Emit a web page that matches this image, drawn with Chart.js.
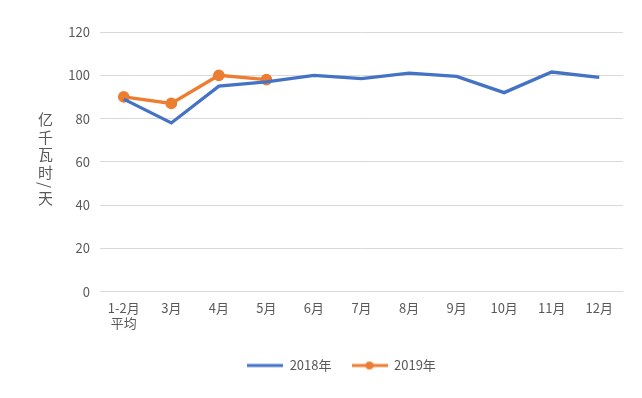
<!DOCTYPE html>
<html><head><meta charset="utf-8">
<script src="https://cdn.jsdelivr.net/npm/chart.js@4/dist/chart.umd.min.js"></script>
<style>
html,body{margin:0;padding:0;background:#fff;}
#wrap{position:relative;width:642px;height:398px;}
#ytitle{position:absolute;left:36px;top:112px;writing-mode:vertical-rl;text-orientation:mixed;font-family:"Noto Sans CJK SC","Noto Sans",sans-serif;font-size:15px;color:#595959;line-height:18px;letter-spacing:2.5px;}
</style></head>
<body>
<div id="wrap"><canvas id="c" width="642" height="398"></canvas><div id="ytitle">亿千瓦时/天</div></div>
<script>
const categories = [['1-2月','平均'],'3月','4月','5月','6月','7月','8月','9月','10月','11月','12月'];
const series2018 = [89, 78, 95, 97, 100, 98.5, 101, 99.5, 92, 101.5, 99];
const series2019 = [90, 87, 100, 98];
const seriesNames = ['2018年','2019年'];
const yTicks = [0, 20, 40, 60, 80, 100, 120];

const BLUE = '#4472C4', ORANGE = '#ED7D31';
function legendImg(color, dot){
  const c = document.createElement('canvas'); c.width = 36; c.height = 12;
  const x = c.getContext('2d');
  x.strokeStyle = color; x.lineWidth = 3; x.lineCap='butt';
  x.beginPath(); x.moveTo(0,6); x.lineTo(36,6); x.stroke();
  if(dot){ x.fillStyle = color; x.beginPath(); x.arc(18,6,4,0,Math.PI*2); x.fill(); }
  return c;
}
const FONT = {family:'"Noto Sans CJK SC","Noto Sans",sans-serif', size:13};
new Chart(document.getElementById('c'), {
  type:'line',
  data:{labels:categories, datasets:[
    {label:seriesNames[0], data:series2018, borderColor:BLUE, backgroundColor:BLUE, borderWidth:3.3, pointRadius:0, pointHoverRadius:0, tension:0},
    {label:seriesNames[1], data:series2019, borderColor:ORANGE, backgroundColor:ORANGE, borderWidth:3.3, pointRadius:4.2, pointBackgroundColor:ORANGE, pointBorderColor:ORANGE, tension:0, pointStyle:'circle'}
  ]},
  options:{
    responsive:false, animation:false,
    layout:{padding:{left:60, right:19, top:32, bottom:16}},
    plugins:{
      tooltip:{enabled:false},
      legend:{position:'bottom', labels:{usePointStyle:true, pointStyleWidth:36, boxHeight:12, color:'#595959', font:FONT, padding:20,
        generateLabels(chart){
          return chart.data.datasets.map((d,i)=>({text:d.label, fontColor:'#595959', pointStyle:legendImg(d.borderColor, i===1), strokeStyle:'transparent', fillStyle:'transparent', lineWidth:0, datasetIndex:i, hidden:false}));
        }}}
    },
    scales:{
      x:{offset:true, grid:{display:false, drawTicks:false}, border:{display:false},
         ticks:{color:'#595959', font:FONT, padding:8, maxRotation:0, autoSkip:false}},
      y:{min:0, max:120, afterBuildTicks(s){ s.ticks = yTicks.map(v=>({value:v})); },
         afterFit(s){ s.width = 40; },
         grid:{color:'#d9d9d9', lineWidth:1, drawTicks:false}, border:{display:false},
         ticks:{color:'#595959', font:FONT, padding:10}}
    }
  }
});
</script>
</body></html>
